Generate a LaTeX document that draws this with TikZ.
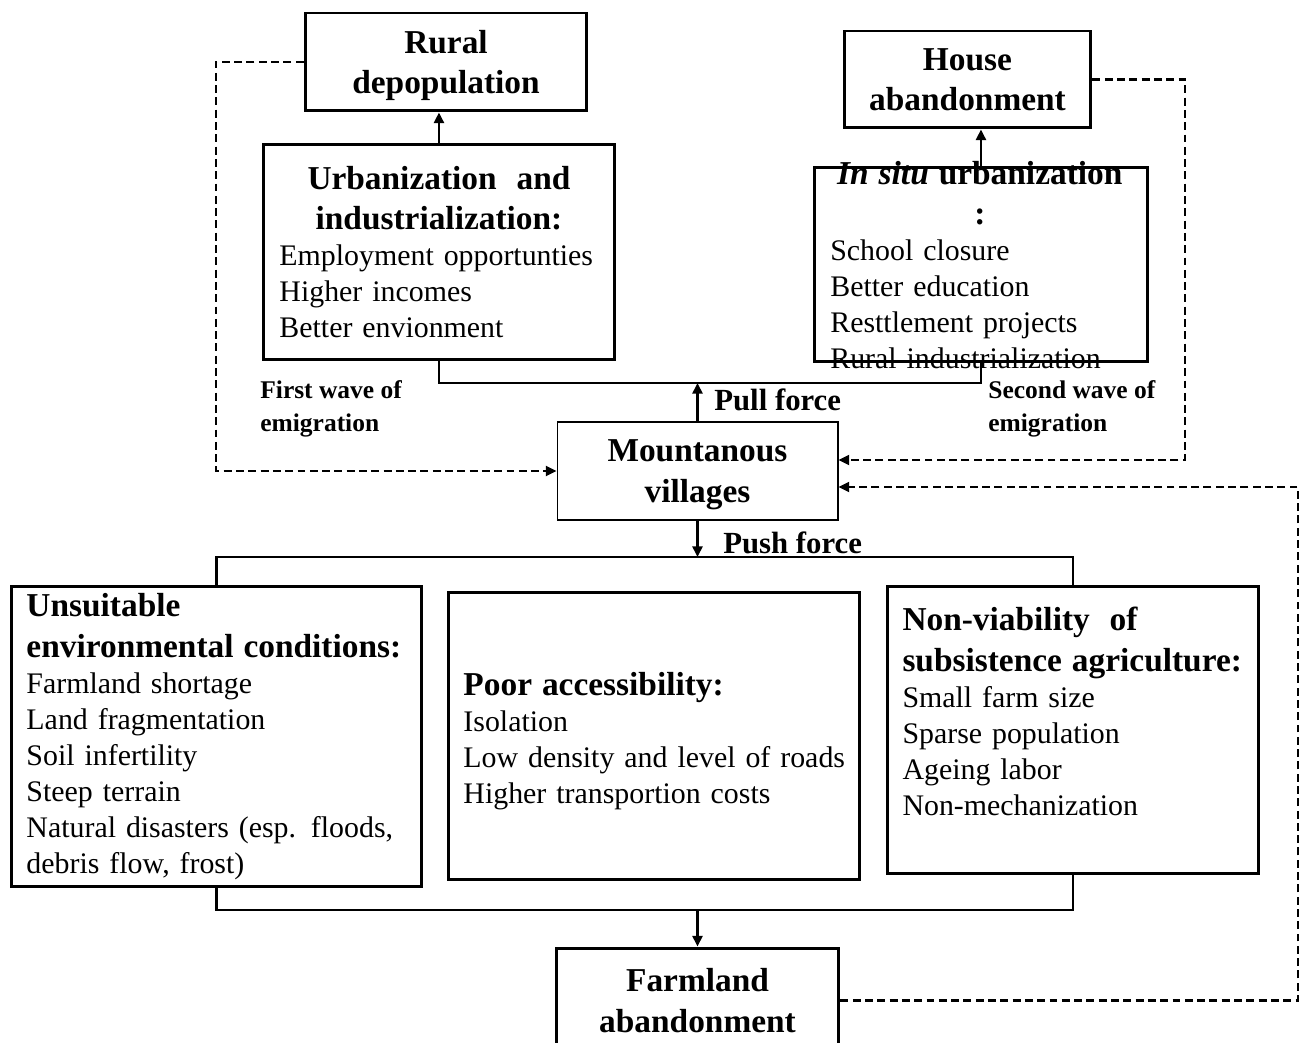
\documentclass[tikz,border=0pt]{standalone}
\usepackage{fontspec}
\setmainfont{Liberation Serif}
\usetikzlibrary{arrows.meta,positioning}

\newcommand{\headfont}{\fontsize{19}{23}\selectfont\bfseries}
\newcommand{\itemfont}{\fontsize{17}{20.5}\selectfont}
\newcommand{\wavefont}{\fontsize{14.5}{18.8}\selectfont\bfseries}
\newcommand{\forcefont}{\fontsize{17.5}{21}\selectfont\bfseries}

\begin{document}
\begin{tikzpicture}[
    x=0.02cm, y=-0.02cm,
    >={Triangle[length=6pt,width=5.6pt]},
    outcome/.style={rectangle, draw, line width=1.7pt, align=center, font=\headfont, inner sep=0pt},
    factor/.style={rectangle, draw, line width=1.7pt, anchor=north west, align=left, font=\itemfont, inner ysep=0pt},
    link/.style={line width=1.5pt},
    arrow/.style={->, line width=1.5pt},
    feedback/.style={->, line width=1.3pt, dash pattern=on 4.5pt off 2.5pt},
    wave/.style={font=\wavefont, align=left, anchor=west, inner sep=0pt},
    force/.style={font=\forcefont, anchor=west, inner sep=0pt}
]
    \useasboundingbox (0,0) rectangle (1301,1043);

    % outcomes
    \node[outcome, text depth=-1pt, minimum width=5.64cm, minimum height=1.96cm] (rural) at (446,62) {Rural\\depopulation};
    \node[outcome, text depth=-1.5pt, minimum width=4.94cm, minimum height=1.94cm] (house) at (967.5,79.5) {House\\abandonment};
    \node[outcome, text depth=-1pt, line width=0.6pt, minimum width=5.62cm, minimum height=1.96cm] (village) at (697.5,471) {Mountanous\\villages};
    \node[outcome, minimum width=5.66cm, minimum height=2.1cm] (farm) at (697.5,1000.5) {Farmland\\abandonment};

    % pull factors
    \node[factor, text width=6.38cm, inner xsep=0.32cm, minimum height=4.3cm] (urban) at (262,143)
        {{\headfont\centering Urbanization\ \ and\\industrialization:\par}Employment opportunties\\Higher incomes\\Better envionment};
    \node[factor, minimum width=6.66cm, minimum height=3.88cm] (insitu) at (813,166) {};
    \node[font=\itemfont, text width=5.98cm, align=left, anchor=north west, inner sep=0pt] (insitutext) at (830,161)
        {{\headfont\centering\textit{In situ} urbanization\\:\par}School closure\\Better education\\Resttlement projects\\Rural industrialization};

    % push factors
    \node[factor, text width=7.6cm, inner xsep=0.3cm, minimum height=6cm] (env) at (10,585)
        {{\headfont Unsuitable\\environmental conditions:\par}Farmland shortage\\Land fragmentation\\Soil infertility\\Steep terrain\\Natural disasters (esp. floods,\\debris flow, frost)};
    \node[factor, text width=7.62cm, inner xsep=0.3cm, minimum height=5.74cm] (access) at (447,591)
        {{\headfont Poor accessibility:\par}Isolation\\\mbox{Low density and level of roads}\\Higher transportion costs\par\vspace{-0.2cm}\hrule height 0pt};
    \node[factor, text width=6.82cm, inner xsep=0.3cm, minimum height=5.74cm] (agri) at (886,585)
        {{\headfont Non-viability\ \ of\\subsistence agriculture:\par}Small farm size\\Sparse population\\Ageing labor\\Non-mechanization\par\vspace{0.74cm}\hrule height 0pt};

    % labels
    \node[wave] (wave1) at (260,409) {First wave of\\emigration};
    \node[wave] (wave2) at (988,409) {Second wave of\\emigration};
    \node[force] (pull) at (714,400) {Pull force};
    \node[force] (push) at (723,543) {Push force};

    % bars
    \coordinate (pullbar) at (697.5,383);
    \coordinate (pushbar) at (697.5,557);
    \coordinate (farmbar) at (697.5,910);
    \coordinate (loopA) at (216,471);
    \coordinate (loopB) at (1185,460);
    \coordinate (loopC) at (1298,487);

    \draw[arrow] (urban.north) -- (urban.north |- rural.south);
    \draw[arrow] (insitu.north) -- (insitu.north |- house.south);
    \draw[link] (urban.south) |- (pullbar) -| (insitu.south);
    \draw[arrow] (village.north) -- (pullbar);
    \draw[arrow] (village.south) -- (pushbar);
    \draw[link] (env.north) |- (pushbar) -| (agri.north);
    \draw[link] (env.south) |- (farmbar) -| (agri.south);
    \draw[arrow] (farmbar) -- (farm.north);

    % feedback loops
    \draw[feedback] (rural.west) -| (loopA) -- (village.west);
    \draw[feedback] (house.east) -| (loopB) -- (loopB -| village.east);
    \draw[feedback] (farm.east) -| (loopC) -- (loopC -| village.east);
\end{tikzpicture}
\end{document}
